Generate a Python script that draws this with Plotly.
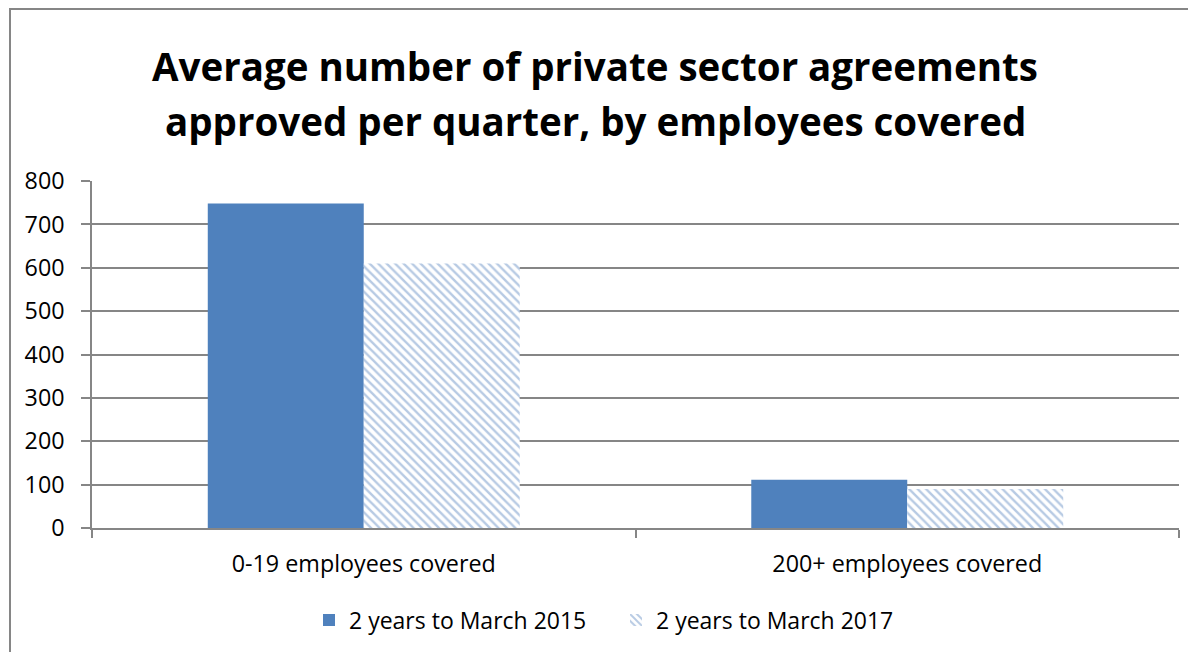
import plotly.graph_objects as go

categories = ["0-19 employees covered", "200+ employees covered"]
series_names = ["2 years to March 2015", "2 years to March 2017"]
values_2015 = [748, 111]
values_2017 = [610, 90]
y_ticks = [0, 100, 200, 300, 400, 500, 600, 700, 800]
title_lines = ["Average number of private sector agreements",
               "approved per quarter, by employees covered"]

blue = "#4F81BD"
grid = "#868686"
font_family = "'Open Sans', 'Noto Sans', sans-serif"

# plot area in screen pixels (page has 8px body offset)
PL, PR, PT, PB = 92, 1179, 181, 528
PW, PH = PR - PL, PB - PT


def px(x):
    return (x - PL) / PW


def py(y):
    return (PB - y) / PH


fig = go.Figure()
fig.add_trace(go.Bar(
    name=series_names[0], x=categories, y=values_2015,
    marker=dict(color=blue, line=dict(width=0)),
))
fig.add_trace(go.Bar(
    name=series_names[1], x=categories, y=values_2017,
    marker=dict(color="white", line=dict(width=0),
                pattern=dict(shape="\\", fgcolor="#6F95C8", bgcolor="white",
                             size=6, solidity=0.4, fillmode="overlay")),
))

title_annotations = [
    dict(text="<b>" + line + "</b>", xref="paper", yref="paper",
         x=px(595), xanchor="center", y=py(yc), yanchor="middle",
         showarrow=False, font=dict(size=38.5, family=font_family, color="black"))
    for line, yc in zip(title_lines, [66, 121])
]

fig.update_layout(
    width=1196, height=652,
    margin=dict(l=PL - 8, r=1196 + 8 - PR, t=PT - 8, b=652 + 8 - PB, pad=0),
    paper_bgcolor="white", plot_bgcolor="white",
    barmode="group", bargap=0.426, bargroupgap=0,
    font=dict(family=font_family, size=23, color="black"),
    showlegend=True,
    legend=dict(orientation="h", x=px(616), xanchor="center", y=py(620), yanchor="middle",
                font=dict(size=23), traceorder="normal",
                entrywidth=262, entrywidthmode="pixels"),
    xaxis=dict(
        type="category", tickson="boundaries", ticks="outside", ticklen=8,
        tickcolor=grid, tickwidth=1.5, showline=True, linecolor=grid, linewidth=1.5,
        showgrid=False, tickfont=dict(size=23.3), ticklabelstandoff=14,
    ),
    yaxis=dict(
        range=[0, 800], tickvals=y_ticks, ticks="outside", ticklen=9,
        tickcolor=grid, tickwidth=1.5, showline=True, linecolor=grid, linewidth=1.5,
        showgrid=True, gridcolor=grid, gridwidth=1.5, zeroline=False,
        tickfont=dict(size=23.3), ticklabelstandoff=12,
    ),
    annotations=title_annotations,
    shapes=[dict(
        type="rect", xref="paper", yref="paper",
        x0=px(10), x1=px(1215), y0=py(680), y1=py(9),
        line=dict(color=grid, width=2), fillcolor="rgba(0,0,0,0)", layer="below",
    )],
)

fig.write_html("out.html")
